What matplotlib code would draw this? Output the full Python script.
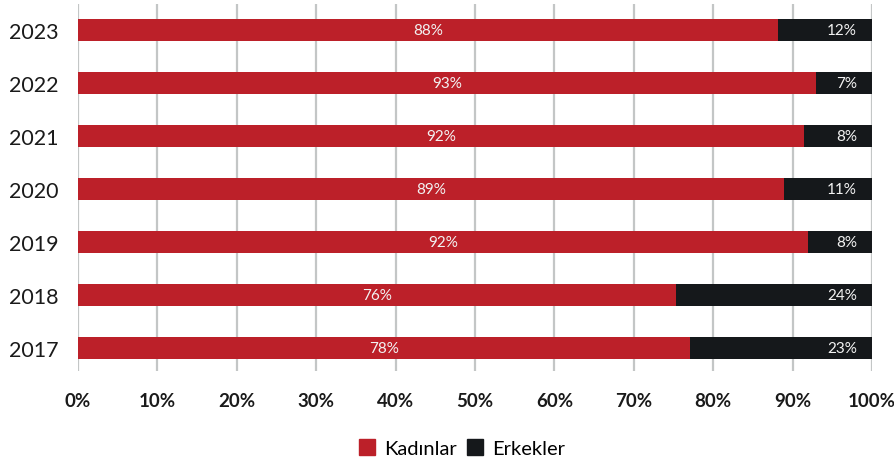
import matplotlib
matplotlib.use("Agg")
import matplotlib.pyplot as plt
from matplotlib.patches import Patch

years = ["2017", "2018", "2019", "2020", "2021", "2022", "2023"]
kadinlar = [77.1, 75.3, 91.9, 88.9, 91.4, 92.9, 88.1]
erkekler = [22.9, 24.7, 8.1, 11.1, 8.6, 7.1, 11.9]
kadin_labels = ["78%", "76%", "92%", "89%", "92%", "93%", "88%"]
erkek_labels = ["23%", "24%", "8%", "11%", "8%", "7%", "12%"]
xticks = [0, 10, 20, 30, 40, 50, 60, 70, 80, 90, 100]
xtick_labels = ["0%", "10%", "20%", "30%", "40%", "50%", "60%", "70%", "80%", "90%", "100%"]

RED = "#BC2029"
BLACK = "#15181B"
GRID = "#C3C6C6"

plt.rcParams['font.family'] = ['Lato', 'DejaVu Sans']

fig = plt.figure(figsize=(8.95, 4.6), dpi=100)
ax = fig.add_axes([78 / 895, 1 - 372 / 460, 794 / 895, 367 / 460])

ypos = list(range(len(years)))
h = 0.41
ax.barh(ypos, kadinlar, height=h, color=RED, zorder=3)
ax.barh(ypos, erkekler, left=kadinlar, height=h, color=BLACK, zorder=3)

for y, k, e, kl, el in zip(ypos, kadinlar, erkekler, kadin_labels, erkek_labels):
    ax.text(k / 2, y, kl, ha="center", va="center", color="#F2F2F2", fontsize=11, zorder=4)
    ax.text(k + e - 1.9, y, el, ha="right", va="center", color="#F2F2F2", fontsize=11, zorder=4)

ax.set_xlim(0, 100)
ax.set_ylim(-0.44, 6.49)
ax.set_xticks(xticks)
ax.set_xticklabels(xtick_labels, fontsize=13.5, fontweight="bold", color="#1a1a1a")
ax.set_yticks(ypos)
ax.set_yticklabels(years, fontsize=15.5, color="#1a1a1a")
ax.tick_params(axis="x", length=0, pad=15)
ax.tick_params(axis="y", length=0, pad=14)
for s in ax.spines.values():
    s.set_visible(False)
ax.xaxis.grid(True, color=GRID, linewidth=1.6, zorder=0)
ax.set_axisbelow(True)

handles = [Patch(color=RED, label="Kadınlar"), Patch(color=BLACK, label="Erkekler")]
fig.legend(handles=handles, loc="center", bbox_to_anchor=(462 / 895, 1 - 449 / 460), ncol=2,
           frameon=False, fontsize=14.5, handlelength=0.8, handleheight=0.8,
           handletextpad=0.45, columnspacing=0.5, borderpad=0)

fig.savefig("out.png", dpi=100)
